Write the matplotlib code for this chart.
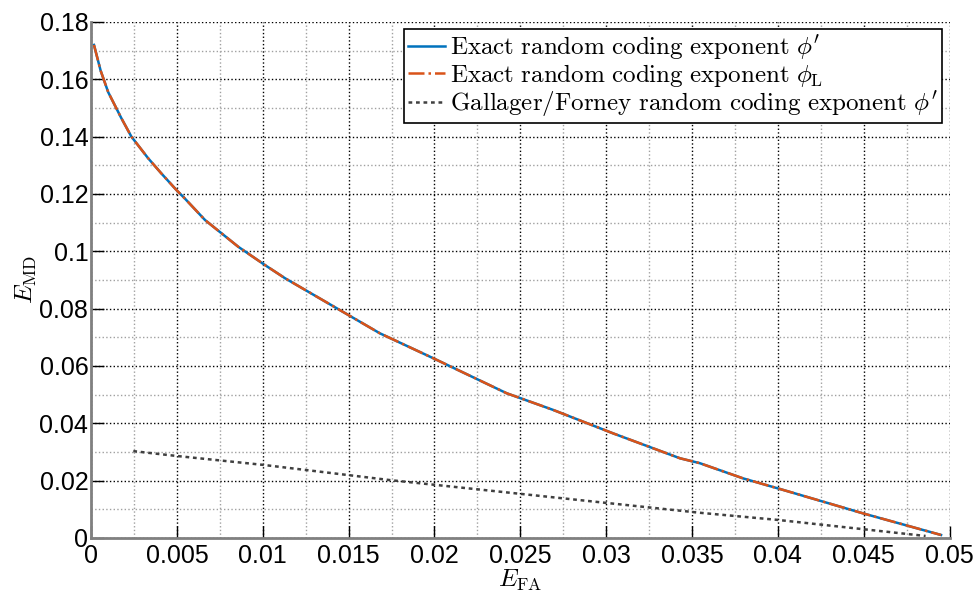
import numpy as np
import matplotlib.pyplot as plt
from matplotlib.ticker import MultipleLocator

plt.rcParams['mathtext.fontset'] = 'cm'
plt.rcParams['font.family'] = ['Liberation Sans', 'DejaVu Sans']

# exact random coding exponent (phi' and phi_L lie on top of each other)
e_fa = [0.00017, 0.00056, 0.0010, 0.00176, 0.00235, 0.00332, 0.00409,
        0.00497, 0.00545, 0.00664, 0.00857, 0.01013, 0.0113, 0.01682, 0.01993,
        0.0242, 0.0269, 0.0304, 0.0343, 0.03545, 0.03797, 0.0400, 0.04495, 0.0495]
e_md = [0.172, 0.163, 0.1555, 0.1465, 0.140, 0.1325, 0.1272,
        0.1214, 0.1185, 0.1109, 0.1016, 0.0952, 0.0906, 0.0714, 0.0627,
        0.0505, 0.0447, 0.0365, 0.0278, 0.0261, 0.0208, 0.0173, 0.0086, 0.00105]

# Gallager/Forney exponent
g_fa = [0.00246, 0.005, 0.01003, 0.0174, 0.03545, 0.0400, 0.0486]
g_md = [0.0303, 0.0286, 0.0255, 0.0202, 0.0088, 0.0063, 0.0007]

fig = plt.figure(figsize=(9.79, 5.91), dpi=100)
ax = fig.add_axes([0.093, 0.0897, 0.877, 0.8731])

ax.plot(e_fa, e_md, color='#0072BD', lw=1.8, label=r"$\mathrm{Exact\ random\ coding\ exponent}\ \phi'$")
ax.plot(e_fa, e_md, color='#D95319', lw=1.8, ls='-.', label=r"$\mathrm{Exact\ random\ coding\ exponent}\ \phi_{\mathrm{L}}$")
ax.plot(g_fa, g_md, color='#404040', lw=1.8, ls=(0, (1.5, 1.5)), label=r"$\mathrm{Gallager/Forney\ random\ coding\ exponent}\ \phi'$")

ax.set_xlim(0, 0.05)
ax.set_ylim(0, 0.18)
ax.xaxis.set_minor_locator(MultipleLocator(0.0025))
ax.yaxis.set_minor_locator(MultipleLocator(0.01))
ax.set_xticks([0, 0.005, 0.01, 0.015, 0.02, 0.025, 0.03, 0.035, 0.04, 0.045, 0.05])
ax.set_xticklabels(['0', '0.005', '0.01', '0.015', '0.02', '0.025', '0.03', '0.035', '0.04', '0.045', '0.05'])
ax.set_yticks(np.arange(0, 0.181, 0.02))
ax.set_yticklabels(['0', '0.02', '0.04', '0.06', '0.08', '0.1', '0.12', '0.14', '0.16', '0.18'])

ax.grid(which='major', color='black', ls=':', lw=1.0)
ax.grid(which='minor', color='#a0a0a0', ls=':', lw=1.0)
ax.set_axisbelow(True)
ax.tick_params(which='major', direction='in', length=9, width=1, labelsize=18, color='black')
ax.tick_params(axis='x', which='major', pad=4)
ax.tick_params(axis='y', which='major', pad=2)
ax.tick_params(which='minor', length=0)

for s in ['top', 'right']:
    ax.spines[s].set_visible(False)
for s in ['left', 'bottom']:
    ax.spines[s].set_color('#808080')
    ax.spines[s].set_linewidth(2)

ax.set_xlabel(r'$E_{\mathrm{FA}}$', fontsize=18, labelpad=0)
ax.set_ylabel(r'$E_{\mathrm{MD}}$', fontsize=18, labelpad=0)

leg = ax.legend(loc='upper right', fontsize=18, handlelength=1.5, handletextpad=0.2,
                labelspacing=0.0, borderpad=0.15, borderaxespad=0.3, fancybox=False,
                framealpha=1, edgecolor='black')
leg.get_frame().set_linewidth(1.2)

fig.savefig('out.png', dpi=100)
